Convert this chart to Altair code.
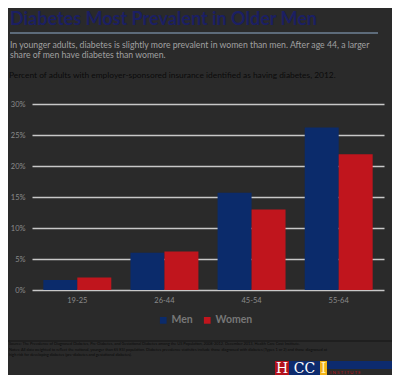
import altair as alt
import pandas as pd

# ---- data ----
age_groups = ["19-25", "26-44", "45-54", "55-64"]
men = [0.016, 0.060, 0.157, 0.262]
women = [0.020, 0.062, 0.130, 0.219]
y_ticks = [0, 0.05, 0.10, 0.15, 0.20, 0.25, 0.30]
series = ["Men", "Women"]
colors = ["#0b2b6b", "#c0151d"]

title = "Diabetes Most Prevalent in Older Men"
subtitle = [
    "In younger adults, diabetes is slightly more prevalent in women than men. After age 44, a larger",
    "share of men have diabetes than women.",
]
chart_label = "Percent of adults with employer-sponsored insurance identified as having diabetes, 2012."
footer = [
    "Source: The Prevalence of Diagnosed Diabetes, Pre-Diabetes, and Gestational Diabetes among the US Population, 2008-2012. December 2013, Health Care Cost Institute.",
    "Notes: All data weighted to reflect the national, younger than 65 ESI population. Diabetes prevalence statistics include those diagnosed with diabetes (Types 1 or 2) and those diagnosed at",
    "high risk for developing diabetes (pre-diabetes and gestational diabetes).",
]

rows = []
for i, g in enumerate(age_groups):
    rows.append({"age": g, "sex": "Men", "value": men[i]})
    rows.append({"age": g, "sex": "Women", "value": women[i]})
df = pd.DataFrame(rows)
one = pd.DataFrame({"a": [0]})

BG = "#2a2a2a"
FONT = "Lato"

bars = alt.Chart(df).mark_bar().encode(
    x=alt.X("age:N", sort=age_groups, title=None,
            scale=alt.Scale(paddingInner=0.22, paddingOuter=0.13),
            axis=alt.Axis(labelAngle=0, labelColor="#8a8a8a", labelFontSize=7.5,
                          labelFont=FONT, ticks=False, domain=False, labelPadding=6)),
    xOffset=alt.XOffset("sex:N", sort=series, scale=alt.Scale(paddingInner=0, paddingOuter=0)),
    y=alt.Y("value:Q", title=None,
            scale=alt.Scale(domain=[0, 0.30], nice=False),
            axis=alt.Axis(values=y_ticks, format=".0%", labelColor="#8a8a8a",
                          labelFontSize=7.5, labelFont=FONT, ticks=False, domain=False,
                          gridColor="#c8c8c8", gridWidth=1.6, labelPadding=7)),
    color=alt.Color("sex:N", sort=series,
                    scale=alt.Scale(domain=series, range=colors),
                    legend=alt.Legend(title=None, orient="none", legendX=126, legendY=211,
                                      direction="horizontal", symbolType="square",
                                      symbolSize=45, symbolStrokeWidth=0,
                                      labelColor="#777777", labelFontSize=10.5,
                                      labelFont=FONT, labelFontWeight="bold",
                                      columnPadding=9, labelOffset=3)),
)

def txt(text, x, y, size, color, weight="normal", baseline="middle"):
    return alt.Chart(one).mark_text(
        text=text, align="left", baseline=baseline, fontSize=size, color=color,
        font=FONT, fontWeight=weight
    ).encode(x=alt.value(x), y=alt.value(y))

def rect(x, x2, y, y2, color):
    return alt.Chart(one).mark_rect(color=color).encode(
        x=alt.value(x), x2=alt.value(x2), y=alt.value(y), y2=alt.value(y2))

layers = [bars]
layers.append(txt(title, -22, -84, 18, "#1b1f63", "bold"))
layers.append(alt.Chart(one).mark_rule(color="#5d6b7a", strokeWidth=2).encode(
    x=alt.value(-22), x2=alt.value(346), y=alt.value(-71)))
layers.append(txt(subtitle[0], -22, -59, 8.7, "#a0a0a0"))
layers.append(txt(subtitle[1], -22, -49.5, 8.7, "#a0a0a0"))
layers.append(txt(chart_label, -23, -29, 8.4, "#0a0a0a"))
layers.append(alt.Chart(one).mark_rule(color="#141414", strokeWidth=1).encode(
    x=alt.value(-24), x2=alt.value(360), y=alt.value(237)))
layers.append(txt(footer[0], -23, 240, 3.9, "#0a0a0a"))
layers.append(txt(footer[1], -23, 246, 3.9, "#0a0a0a"))
layers.append(txt(footer[2], -23, 251, 3.9, "#0a0a0a"))
# logo
layers.append(rect(243, 257, 257, 272, "#b3121c"))
layers.append(rect(257, 288, 257, 272, "#0d2b6e"))
layers.append(rect(288, 295, 257, 272, "#f2b316"))
layers.append(rect(295, 360, 257, 265, "#0d2b6e"))
layers.append(alt.Chart(one).mark_text(text="H", align="center", baseline="middle",
    fontSize=14, color="white", font="DejaVu Serif").encode(x=alt.value(250), y=alt.value(265)))
layers.append(alt.Chart(one).mark_text(text="CC", align="center", baseline="middle",
    fontSize=14, color="white", font="DejaVu Serif").encode(x=alt.value(272.5), y=alt.value(265)))
layers.append(alt.Chart(one).mark_text(text="I", align="center", baseline="middle",
    fontSize=14, color="#fff3c0", font="DejaVu Serif").encode(x=alt.value(291.5), y=alt.value(265)))
layers.append(alt.Chart(one).mark_text(text="I N S T I T U T E", align="left", baseline="middle",
    fontSize=4.5, color="#b3121c", font=FONT).encode(x=alt.value(298), y=alt.value(269)))

chart = alt.layer(*layers).properties(
    width=352, height=186,
    background=BG,
    autosize=alt.AutoSizeParams(type="none"),
    padding={"left": 24, "top": 96, "right": 8, "bottom": 85},
).configure_view(stroke=None).configure_axis(gridOpacity=1)

chart.save("out.html", embed_options={"renderer": "svg", "actions": False})
